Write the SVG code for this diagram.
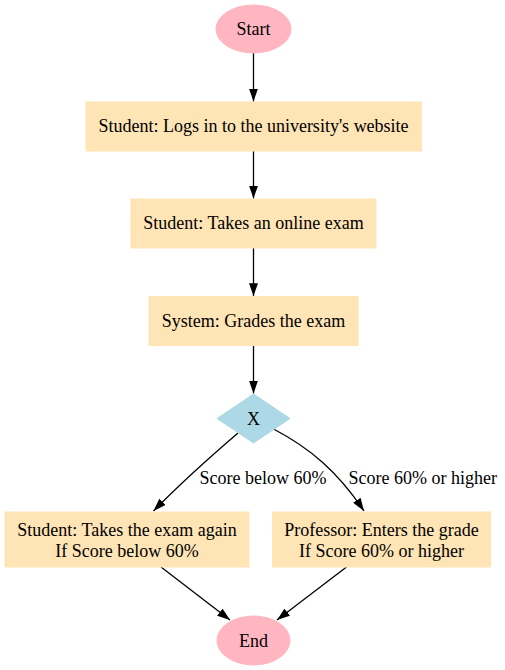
<svg xmlns="http://www.w3.org/2000/svg" width="505" height="670" viewBox="0 0 505 670">
<style>
text { font-family: 'Liberation Serif', 'Times New Roman', 'DejaVu Serif', serif; font-size: 18px; fill: #000; text-anchor: middle; }
.term { fill: #ffb6c1; stroke: #ffb6c1; }
.task { fill: #ffe4b5; stroke: #ffe4b5; }
.gate { fill: #add8e6; stroke: #add8e6; }
.edge { fill: none; stroke: #000; stroke-width: 1.3; }
.lbl { text-anchor: start; }
</style>
<defs>
<marker id="arr" viewBox="0 0 10 7" refX="10" refY="3.5" markerWidth="13" markerHeight="9" markerUnits="userSpaceOnUse" orient="auto">
<path d="M0,0 L10,3.5 L0,7 Z" fill="#000"/>
</marker>
</defs>
<rect width="505" height="670" fill="#fff"/>
<g id="edges">
<path class="edge" d="M253.5,53 L253.5,101.5" marker-end="url(#arr)"/>
<path class="edge" d="M253.5,151 L253.5,198.5" marker-end="url(#arr)"/>
<path class="edge" d="M253.5,248 L253.5,296" marker-end="url(#arr)"/>
<path class="edge" d="M253.5,346 L253.5,393.5" marker-end="url(#arr)"/>
<path class="edge" d="M238,433 C210,457 180,484 153.5,511" marker-end="url(#arr)"/>
<path class="edge" d="M273.5,429 C310,448 338,472 364,511" marker-end="url(#arr)"/>
<path class="edge" d="M161,567 L230,620" marker-end="url(#arr)"/>
<path class="edge" d="M346.5,567 L277,620" marker-end="url(#arr)"/>
<text class="lbl" x="199.5" y="484">Score below 60%</text>
<text class="lbl" x="348.5" y="484">Score 60% or higher</text>
</g>
<g id="start">
<ellipse class="term" cx="253.5" cy="29" rx="37.5" ry="24"/>
<text x="253.5" y="35">Start</text>
</g>
<g id="login">
<rect class="task" x="86" y="102" width="335.5" height="49"/>
<text x="253.5" y="132">Student: Logs in to the university's website</text>
</g>
<g id="exam">
<rect class="task" x="131" y="199" width="245" height="49"/>
<text x="253.5" y="229">Student: Takes an online exam</text>
</g>
<g id="grade">
<rect class="task" x="149" y="296.5" width="209" height="49"/>
<text x="253.5" y="326.5">System: Grades the exam</text>
</g>
<g id="gateway">
<polygon class="gate" points="253.5,394 290,418.5 253.5,443 217,418.5"/>
<text x="253.5" y="424.5">X</text>
</g>
<g id="retake">
<rect class="task" x="5" y="512" width="244" height="55"/>
<text x="127" y="535.5">Student: Takes the exam again</text>
<text x="127" y="557">If Score below 60%</text>
</g>
<g id="enter">
<rect class="task" x="272.5" y="512" width="218" height="55"/>
<text x="381.5" y="535.5">Professor: Enters the grade</text>
<text x="381.5" y="557">If Score 60% or higher</text>
</g>
<g id="end">
<ellipse class="term" cx="253.5" cy="640.5" rx="36.5" ry="24.5"/>
<text x="253.5" y="647">End</text>
</g>
</svg>
